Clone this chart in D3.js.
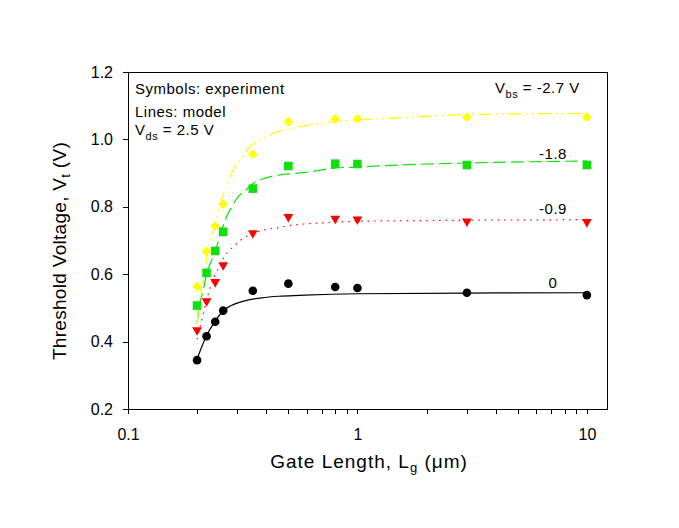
<!DOCTYPE html>
<html>
<head>
<meta charset="utf-8">
<script src="https://cdn.jsdelivr.net/npm/d3@7"></script>
<style>
  html, body { margin: 0; padding: 0; background: #fff; }
  svg { display: block; }
  text { font-family: Arial, "Liberation Sans", sans-serif; fill: #000; }
</style>
</head>
<body>
<svg id="chart" width="679" height="528"></svg>
<script>
// ---- Data ----
const expL = [0.2, 0.22, 0.24, 0.26, 0.35, 0.5, 0.8, 1.0, 3, 10];
const exp0   = [0.345, 0.416, 0.459, 0.492, 0.551, 0.572, 0.562, 0.559, 0.545, 0.538];
const exp09  = [0.434, 0.520, 0.577, 0.627, 0.722, 0.770, 0.765, 0.763, 0.757, 0.755];
const exp18  = [0.507, 0.604, 0.669, 0.726, 0.854, 0.921, 0.928, 0.927, 0.924, 0.924];
const exp27  = [0.564, 0.668, 0.743, 0.808, 0.956, 1.052, 1.061, 1.061, 1.066, 1.066];

const modL0  = [0.2, 0.219, 0.238, 0.259, 0.293, 0.323, 0.383, 0.467, 0.59, 1.0, 3, 10];
const mod0   = [0.348, 0.415, 0.458, 0.490, 0.512, 0.521, 0.530, 0.535, 0.538, 0.542, 0.544, 0.545];

const modL09 = [0.2, 0.2095, 0.2253, 0.2377, 0.2471, 0.2626, 0.2781, 0.2904, 0.3182, 0.3463, 0.3886, 0.4518, 0.5163, 0.7, 1.0, 3, 10];
const mod09  = [0.407, 0.464, 0.548, 0.593, 0.615, 0.652, 0.672, 0.684, 0.707, 0.719, 0.731, 0.738, 0.745, 0.752, 0.757, 0.760, 0.762];

const modL18 = [0.2, 0.2059, 0.2128, 0.2181, 0.2238, 0.2316, 0.2435, 0.256, 0.2692, 0.283, 0.3024, 0.3289, 0.3576, 0.3953, 0.4518, 0.5342, 0.5905, 0.8, 1.0, 1.3, 3, 10];
const mod18  = [0.454, 0.514, 0.553, 0.588, 0.617, 0.642, 0.681, 0.731, 0.771, 0.800, 0.830, 0.852, 0.873, 0.885, 0.894, 0.899, 0.902, 0.915, 0.918, 0.922, 0.930, 0.936];

const modL27 = [0.2, 0.2059, 0.2128, 0.2238, 0.2353, 0.2471, 0.2597, 0.273, 0.287, 0.3074, 0.3234, 0.329, 0.3759, 0.4296, 0.5254, 0.6857, 0.8977, 1.255, 3, 10];
const mod27  = [0.454, 0.543, 0.593, 0.672, 0.731, 0.786, 0.835, 0.875, 0.909, 0.939, 0.959, 0.968, 0.998, 1.018, 1.033, 1.048, 1.056, 1.061, 1.074, 1.077];

const xTicks = [0.1, 1, 10];
const xTickLabels = ["0.1", "1", "10"];
const yTicks = [0.2, 0.4, 0.6, 0.8, 1.0, 1.2];
const yTickLabels = ["0.2", "0.4", "0.6", "0.8", "1.0", "1.2"];
const curveLabels = ["0", "-1.8", "-0.9"];

// ---- Layout ----
const svg = d3.select("#chart");
const mL = 128, mR = 607.5, mT = 72, mB = 409;

const x = d3.scaleLog().domain([0.1, 12.3]).range([mL, mR]);
const y = d3.scaleLinear().domain([0.2, 1.2]).range([mB, mT]);

// frame
svg.append("rect")
  .attr("x", mL).attr("y", mT)
  .attr("width", mR - mL).attr("height", mB - mT)
  .attr("fill", "none").attr("stroke", "#000").attr("stroke-width", 1)
  .attr("shape-rendering", "crispEdges");

// x axis
const minorX = [];
[0.1, 1].forEach(d => { for (let k = 2; k <= 9; k++) minorX.push(d * k); });
const xAxis = d3.axisBottom(x).tickValues(xTicks.concat(minorX))
  .tickSize(5).tickPadding(15)
  .tickFormat(d => { const i = xTicks.indexOf(d); return i >= 0 ? xTickLabels[i] : ""; });
const gx = svg.append("g").attr("transform", `translate(0,${mB})`).call(xAxis);
gx.select(".domain").remove();
gx.selectAll("line").attr("shape-rendering", "crispEdges");
gx.selectAll("text").style("font-size", "16px").attr("font-family", "Arial, 'Liberation Sans', sans-serif");

// y axis
const yAxis = d3.axisLeft(y).tickValues(yTicks).tickSize(5).tickPadding(10)
  .tickFormat((d, i) => yTickLabels[i]);
const gy = svg.append("g").attr("transform", `translate(${mL},0)`).call(yAxis);
gy.select(".domain").remove();
gy.selectAll("line").attr("shape-rendering", "crispEdges");
gy.selectAll("text").style("font-size", "16px").attr("font-family", "Arial, 'Liberation Sans', sans-serif");

// axis titles
const xt = svg.append("text").attr("x", 369).attr("y", 468)
  .attr("text-anchor", "middle").style("font-size", "19px").style("letter-spacing", "1px");
xt.append("tspan").text("Gate Length, L");
xt.append("tspan").attr("dy", 4).style("font-size", "13px").text("g");
xt.append("tspan").attr("dy", -4).text(" (\u03bcm)");

const yt = svg.append("text")
  .attr("transform", "translate(66,251) rotate(-90)")
  .attr("text-anchor", "middle").style("font-size", "19px").style("letter-spacing", "0.3px");
yt.append("tspan").text("Threshold Voltage, V");
yt.append("tspan").attr("dy", 4).style("font-size", "13px").text("t");
yt.append("tspan").attr("dy", -4).text(" (V)");

// model lines
const line = d3.line().x(d => x(d[0])).y(d => y(d[1])).curve(d3.curveMonotoneX);
const models = [
  { L: modL0,  V: mod0,  color: "#000000", dash: null },
  { L: modL09, V: mod09, color: "#ff0000", dash: "1.5,5" },
  { L: modL18, V: mod18, color: "#10e010", dash: "13,5" },
  { L: modL27, V: mod27, color: "#ffff00", dash: "14,4,2,4,2,4" }
];
models.forEach(m => {
  svg.append("path")
    .datum(m.L.map((l, i) => [l, m.V[i]]))
    .attr("d", line)
    .attr("fill", "none")
    .attr("stroke", m.color)
    .attr("stroke-width", 1.2)
    .attr("stroke-dasharray", m.dash);
});

// experimental symbols
const pts = (vals) => expL.map((l, i) => [l, vals[i]]);
svg.append("g").selectAll("circle").data(pts(exp0)).join("circle")
  .attr("cx", d => x(d[0])).attr("cy", d => y(d[1])).attr("r", 4.3).attr("fill", "#000");
const tri = d3.symbol().type(d3.symbolTriangle).size(42);
svg.append("g").selectAll("path").data(pts(exp09)).join("path")
  .attr("d", tri)
  .attr("transform", d => `translate(${x(d[0])},${y(d[1])}) rotate(180)`)
  .attr("fill", "#ff0000");
svg.append("g").selectAll("rect").data(pts(exp18)).join("rect")
  .attr("x", d => x(d[0]) - 4.3).attr("y", d => y(d[1]) - 4.3)
  .attr("width", 8.6).attr("height", 8.6).attr("fill", "#10e010");
const dia = d3.symbol().type(d3.symbolDiamond2).size(60);
svg.append("g").selectAll("path").data(pts(exp27)).join("path")
  .attr("d", dia)
  .attr("transform", d => `translate(${x(d[0])},${y(d[1])})`)
  .attr("fill", "#ffff00");

// annotations
const ann = svg.append("g").style("font-size", "15px").style("letter-spacing", "0.5px");
ann.append("text").attr("x", 135).attr("y", 94).text("Symbols: experiment");
ann.append("text").attr("x", 135).attr("y", 117).text("Lines: model");
const vds = ann.append("text").attr("x", 135).attr("y", 135);
vds.append("tspan").text("V");
vds.append("tspan").attr("dy", 5).style("font-size", "11px").text("ds");
vds.append("tspan").attr("dy", -5).text(" = 2.5 V");

const vbs = ann.append("text").attr("x", 495).attr("y", 93);
vbs.append("tspan").text("V");
vbs.append("tspan").attr("dy", 5).style("font-size", "11px").text("bs");
vbs.append("tspan").attr("dy", -5).text(" = -2.7 V");

const labelBase = [288, 159, 214];
curveLabels.forEach((t, i) => {
  ann.append("text").attr("x", 553).attr("y", labelBase[i]).attr("text-anchor", "middle").text(t);
});
</script>
</body>
</html>
